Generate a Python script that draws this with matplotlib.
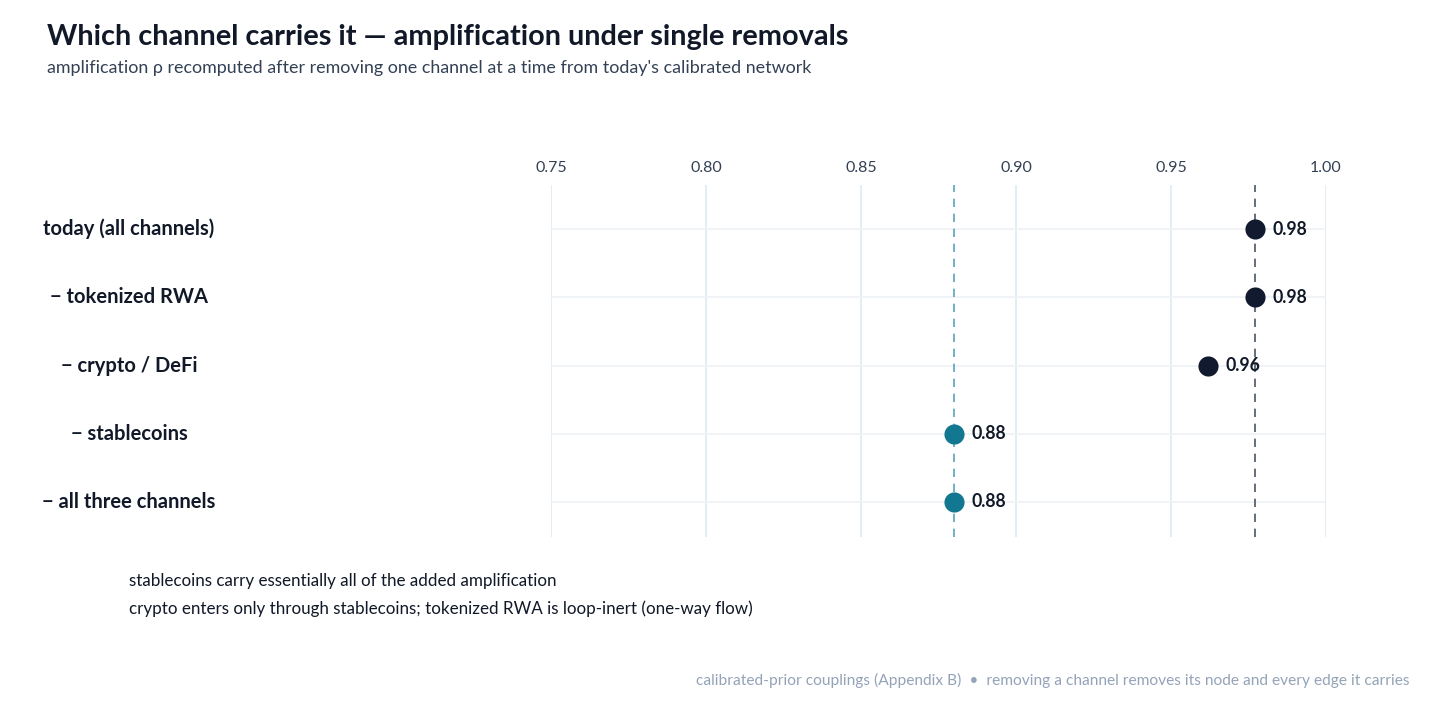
import matplotlib
matplotlib.use('Agg')
import matplotlib.pyplot as plt

plt.rcParams['font.family'] = ['Lato', 'DejaVu Sans']

# data
labels = ['today (all channels)', '− tokenized RWA', '− crypto / DeFi',
          '− stablecoins', '− all three channels']
values = [0.977, 0.977, 0.962, 0.880, 0.880]
value_text = ['0.98', '0.98', '0.96', '0.88', '0.88']
carried_by_stablecoins = [False, False, False, True, True]
ticks = [0.75, 0.80, 0.85, 0.90, 0.95, 1.00]
ref_today = 0.977
ref_stable = 0.880

dark = '#111a2e'
teal = '#127790'

fig = plt.figure(figsize=(14.56, 7.04), dpi=100)
ax = fig.add_axes([551/1456, 1-537/704, (1326-551)/1456, (537-185)/704])

ax.set_xlim(0.75, 1.0)
ax.set_ylim(4.513, -0.645)
ax.set_xticks(ticks)
ax.set_xticklabels([f'{t:.2f}' for t in ticks])
ax.xaxis.tick_top()
ax.tick_params(axis='x', length=0, pad=7.5, labelsize=11.5, labelcolor='#334155')
ax.set_yticks([])
for s in ax.spines.values():
    s.set_visible(False)

for t in ticks:
    ax.axvline(t, color='#dde8ef', lw=1.1, zorder=0)
for i in range(len(labels)):
    ax.axhline(i, color='#eef2f6', lw=1.2, zorder=0)

ax.axvline(ref_stable, color='#5aa3bd', lw=1.2, ls=(0, (5, 4)), zorder=1)
ax.axvline(ref_today, color='#4b5563', lw=1.2, ls=(0, (5, 4)), zorder=1)

for i, (v, txt, st) in enumerate(zip(values, value_text, carried_by_stablecoins)):
    ax.scatter(v, i, s=210, color=teal if st else dark, zorder=3, linewidths=0)
    ax.annotate(txt, (v, i), xytext=(12.5, 0), textcoords='offset points',
                va='center', ha='left', fontsize=12.7, fontweight='bold', color='#111827')
    fig.text(129/1456, 1 - (229 + 68.25*i)/704, labels[i], ha='center', va='center',
             fontsize=14.5, fontweight='bold', color='#111827')

fig.text(47/1456, 1-37/704, 'Which channel carries it — amplification under single removals',
         fontsize=20.8, fontweight='bold', color='#111827', va='center')
fig.text(47/1456, 1-68/704,
         "amplification ρ recomputed after removing one channel at a time from today's calibrated network",
         fontsize=12.9, color='#334155', va='center')

fig.text(129/1456, 1-581/704, 'stablecoins carry essentially all of the added amplification',
         fontsize=12.25, color='#111827', va='center')
fig.text(129/1456, 1-609/704,
         'crypto enters only through stablecoins; tokenized RWA is loop-inert (one-way flow)',
         fontsize=12.25, color='#111827', va='center')

fig.text(1409/1456, 1-680/704,
         'calibrated-prior couplings (Appendix B)  •  removing a channel removes its node and every edge it carries',
         fontsize=11.2, color='#94a3b8', va='center', ha='right')

fig.savefig('out.png', dpi=100, facecolor='white')
